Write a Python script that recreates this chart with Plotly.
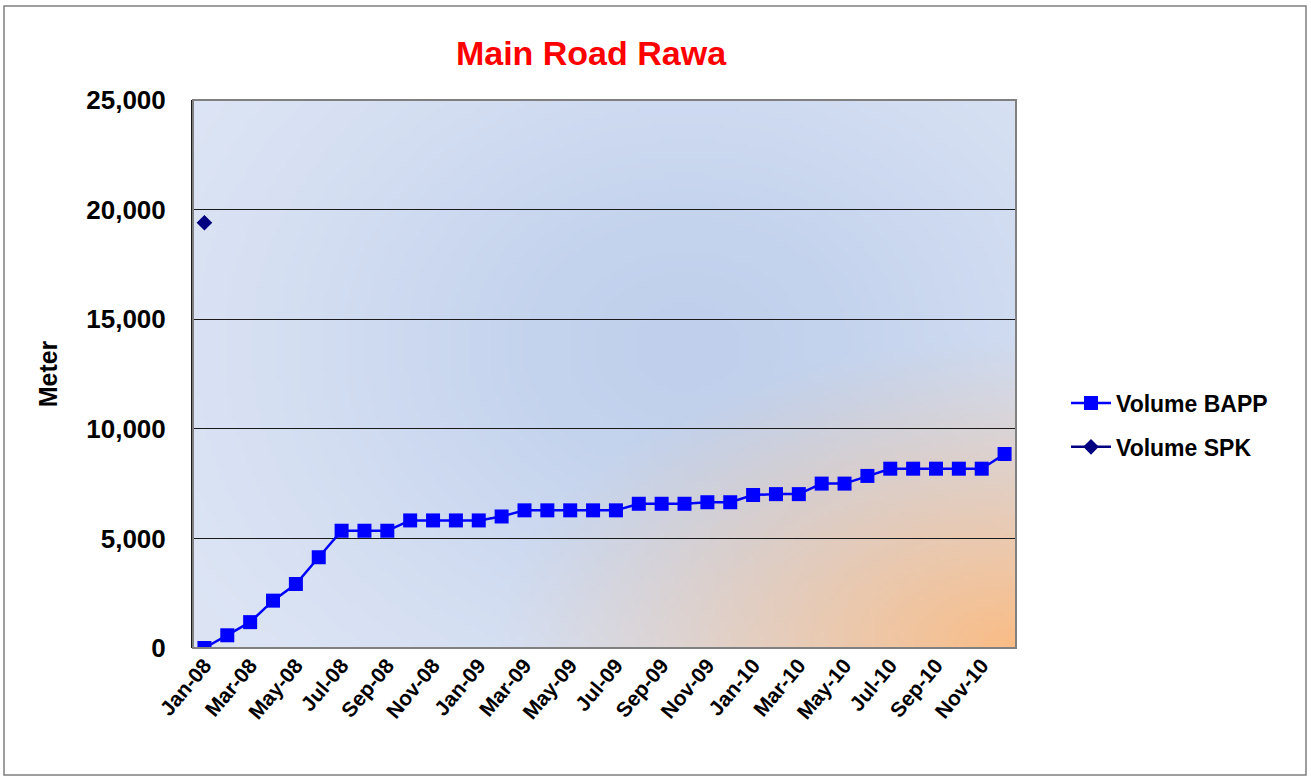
import base64
import math
import struct
import zlib

import plotly.graph_objects as go

# Data
months = [
    "Jan-08", "Feb-08", "Mar-08", "Apr-08", "May-08", "Jun-08",
    "Jul-08", "Aug-08", "Sep-08", "Oct-08", "Nov-08", "Dec-08",
    "Jan-09", "Feb-09", "Mar-09", "Apr-09", "May-09", "Jun-09",
    "Jul-09", "Aug-09", "Sep-09", "Oct-09", "Nov-09", "Dec-09",
    "Jan-10", "Feb-10", "Mar-10", "Apr-10", "May-10", "Jun-10",
    "Jul-10", "Aug-10", "Sep-10", "Oct-10", "Nov-10", "Dec-10",
]
volume_bapp = [
    0, 580, 1180, 2160, 2920, 4140,
    5350, 5350, 5350, 5820, 5820, 5820,
    5820, 6000, 6280, 6280, 6280, 6280,
    6280, 6580, 6580, 6580, 6650, 6650,
    6980, 7020, 7020, 7500, 7500, 7850,
    8180, 8180, 8180, 8180, 8180, 8850,
]
volume_spk = [19400] + [None] * 35
y_ticks = [0, 5000, 10000, 15000, 20000, 25000]
x_ticks = months[::2]


# background gradient for the plot area (Excel style fill)
def gradient_png(w, h):
    light = (224, 231, 245)
    blue = (192, 208, 236)
    orange = (249, 188, 134)
    rows = []
    for j in range(h):
        v = j / (h - 1)
        row = bytearray([0])
        for i in range(w):
            u = i / (w - 1)
            bw = math.exp(-(((u - 0.6) / 0.5) ** 2 + ((v - 0.45) / 0.6) ** 2))
            d = math.hypot((1 - u) * 823 / 520, (1 - v) * 548 / 310)
            ow = max(0.0, 1 - d) ** 1.15
            px = []
            for k in range(3):
                c = light[k] + (blue[k] - light[k]) * bw
                c = c + (orange[k] - c) * ow
                px.append(int(round(c)))
            row += bytes(px)
        rows.append(bytes(row))
    raw = b"".join(rows)

    def chunk(tag, data):
        return struct.pack(">I", len(data)) + tag + data + struct.pack(">I", zlib.crc32(tag + data) & 0xffffffff)

    png = b"\x89PNG\r\n\x1a\n"
    png += chunk(b"IHDR", struct.pack(">IIBBBBB", w, h, 8, 2, 0, 0, 0))
    png += chunk(b"IDAT", zlib.compress(raw, 9))
    png += chunk(b"IEND", b"")
    return "data:image/png;base64," + base64.b64encode(png).decode()


fig = go.Figure()
fig.add_trace(go.Scatter(
    x=months, y=volume_bapp, name="<b>Volume BAPP</b>", mode="lines+markers",
    legendgroup="bapp",
    line=dict(color="#0000FF", width=2.5),
    marker=dict(symbol="square", size=14, color="#0000FF"),
))
fig.add_trace(go.Scatter(
    x=months, y=volume_spk, name="<b>Volume SPK</b>", mode="lines+markers",
    legendgroup="spk",
    line=dict(color="#000080", width=2.5),
    marker=dict(symbol="diamond", size=12, color="#000080"),
))

W, H = 1311, 776
L, R, T, B = 193, 295, 100, 128
pw, ph = W - L - R, H - T - B


def px_x(x):
    return (x - L) / pw


def px_y(y):
    return (H - B - y) / ph


fig.add_layout_image(dict(
    source=gradient_png(165, 110), xref="paper", yref="paper",
    x=0, y=1, sizex=1, sizey=1, sizing="stretch", layer="below",
))

# plot area frame + outer chart border
fig.add_shape(type="rect", xref="paper", yref="paper", x0=0, y0=0, x1=1, y1=1,
              line=dict(color="#808080", width=2), layer="above")
fig.add_shape(type="rect", xref="paper", yref="paper",
              x0=px_x(4), x1=px_x(1306), y0=px_y(775), y1=px_y(6),
              line=dict(color="#7f7f7f", width=1.5))

fig.update_layout(
    width=W, height=H,
    margin=dict(l=L, r=R, t=T, b=B),
    paper_bgcolor="white",
    plot_bgcolor="rgba(0,0,0,0)",
    font=dict(family="Arial, Liberation Sans, sans-serif", color="black"),
    title=dict(text="<b>Main Road Rawa</b>", font=dict(size=34, color="#FF0000"),
               x=px_x(591), xref="paper", xanchor="center",
               y=1 - 53 / H, yanchor="middle"),
    legend=dict(x=px_x(1066), y=px_y(425), xanchor="left", yanchor="middle",
                font=dict(size=23), bgcolor="rgba(0,0,0,0)",
                traceorder="grouped", tracegroupgap=11, itemwidth=40),
    showlegend=True,
)
fig.update_xaxes(
    type="category", range=[-0.5, 35.5],
    tickmode="array", tickvals=x_ticks, ticktext=[f"<b>{t}</b>" for t in x_ticks],
    tickangle=-50, tickfont=dict(size=21),
    showgrid=False, showline=False, ticks="",
)
fig.update_yaxes(
    range=[0, 25000], tickvals=y_ticks,
    ticktext=[f"<b>{v:,}</b>" for v in y_ticks],
    tickfont=dict(size=26), ticklabelstandoff=20,
    showgrid=True, gridcolor="#1a1a1a", gridwidth=1,
    zeroline=False, showline=True, linecolor="#1a1a1a", linewidth=2,
    title=dict(text="<b>Meter</b>", font=dict(size=25), standoff=22),
)

fig.write_html("out.html", config={"displayModeBar": False},
               post_script="document.body.style.margin='0';")
